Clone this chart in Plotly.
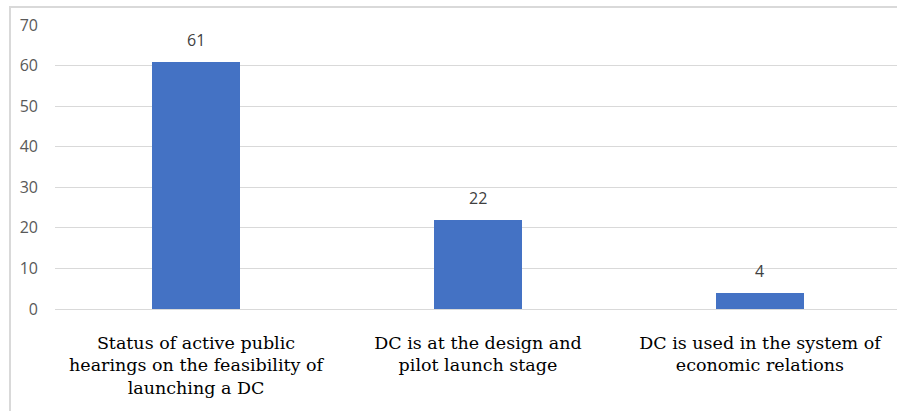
import plotly.graph_objects as go

# Chart data
categories = [
    "Status of active public<br>hearings on the feasibility of<br>launching a DC",
    "DC is at the design and<br>pilot launch stage",
    "DC is used in the system of<br>economic relations",
]
values = [61, 22, 4]
y_ticks = [0, 10, 20, 30, 40, 50, 60, 70]

W, H = 897, 411
left, right, top, bottom = 55, 0, 25, 102
plot_w = W - left - right
plot_h = H - top - bottom

SERIF = "DejaVu Serif"
SANS = "Open Sans"

fig = go.Figure(
    go.Bar(
        x=list(range(len(categories))),
        y=values,
        width=0.312,
        marker=dict(color="#4472C4", line=dict(width=0)),
        hoverinfo="skip",
    )
)

# Value labels above each bar
for i, v in enumerate(values):
    fig.add_annotation(
        x=i, y=v, text=str(v), showarrow=False,
        yanchor="bottom", yshift=9,
        font=dict(family=SANS, size=16, color="#404040"),
    )

fig.update_layout(
    width=W,
    height=H,
    margin=dict(l=left, r=right, t=top, b=bottom),
    paper_bgcolor="white",
    plot_bgcolor="white",
    showlegend=False,
    bargap=0,
    xaxis=dict(
        range=[-0.5, 2.486],
        tickmode="array",
        tickvals=list(range(len(categories))),
        ticktext=categories,
        tickangle=0,
        tickfont=dict(family=SERIF, size=17.5, color="#000000"),
        showgrid=False,
        zeroline=False,
        showline=False,
        ticks="",
        ticklabelstandoff=21,
    ),
    yaxis=dict(
        range=[0, 70],
        tickmode="array",
        tickvals=y_ticks,
        ticktext=[str(t) for t in y_ticks],
        tickfont=dict(family=SANS, size=16, color="#595959"),
        showgrid=True,
        gridcolor="#d9d9d9",
        gridwidth=1,
        zeroline=True,
        zerolinecolor="#d9d9d9",
        zerolinewidth=1,
        showline=False,
        ticks="",
        ticklabelstandoff=16,
    ),
)

# Light grey chart-area frame
fig.add_shape(
    type="rect",
    xref="paper",
    yref="paper",
    x0=(10 - left) / plot_w,
    x1=1.2,
    y0=-0.6,
    y1=1 + (top - 7) / plot_h,
    line=dict(color="#d9d9d9", width=2),
    fillcolor="rgba(0,0,0,0)",
    layer="below",
)

fig.write_html("out.html")
